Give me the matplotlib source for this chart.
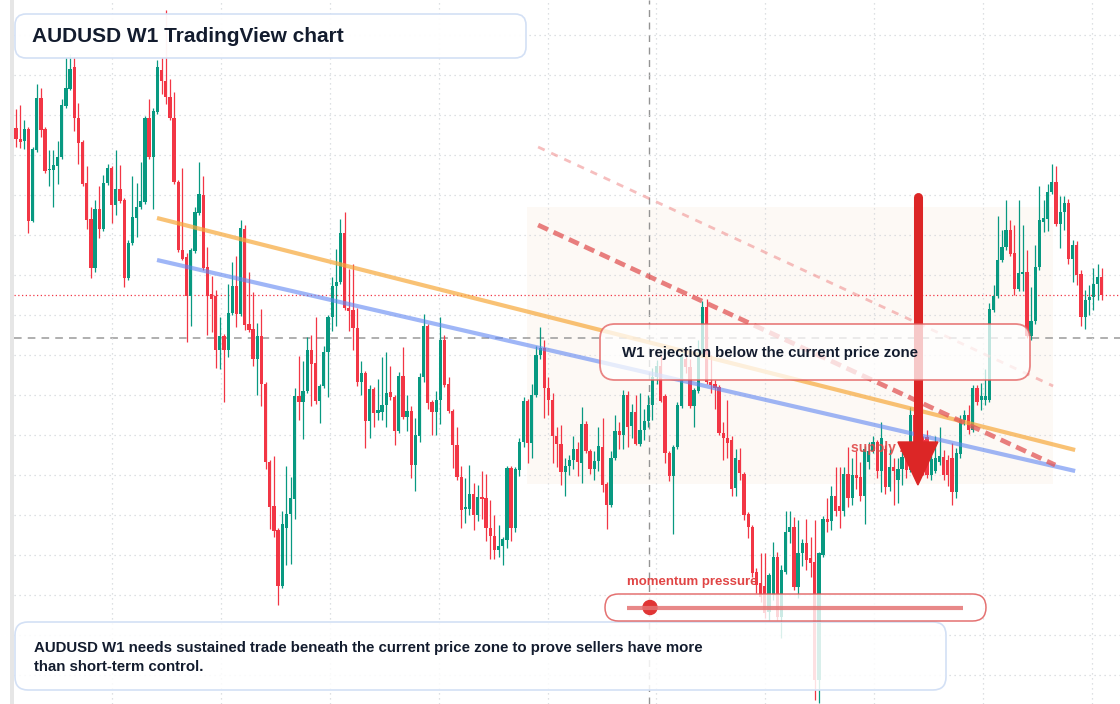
import numpy as np
import matplotlib.pyplot as plt
from matplotlib.patches import FancyBboxPatch, Rectangle, Polygon, Circle

plt.rcParams['font.family'] = ['Liberation Sans', 'DejaVu Sans']

# AUDUSD weekly candles, prices in pips (divide by 10000)
opens = [
    7267, 7256, 7254, 7266, 7174, 7245, 7297, 7266, 7225, 7225,
    7229, 7238, 7289, 7306, 7328, 7277, 7253, 7212, 7176, 7127,
    7186, 7166, 7212, 7227, 7190, 7206, 7195, 7117, 7152, 7177,
    7188, 7193, 7277, 7238, 7283, 7325, 7314, 7298, 7277, 7213,
    7145, 7138, 7099, 7144, 7182, 7200, 7128, 7101, 7099, 7045,
    7059, 7045, 7082, 7109, 7081, 7166, 7071, 7066, 7036, 7059,
    7011, 6933, 6889, 6865, 6809, 6867, 6881, 6896, 6999, 6993,
    7004, 7045, 7032, 6994, 7009, 7043, 7078, 7109, 7113, 7162,
    7087, 7085, 7067, 7013, 7022, 6974, 7006, 6982, 6983, 6990,
    7003, 6998, 6964, 7019, 6978, 6984, 6930, 6959, 7018, 7069,
    6993, 6983, 6995, 7055, 7011, 6984, 6950, 6918, 6886, 6886,
    6901, 6880, 6898, 6897, 6867, 6859, 6845, 6849, 6855, 6927,
    6867, 6925, 6953, 6994, 6952, 7000, 7040, 7047, 7007, 6995,
    6959, 6951, 6923, 6929, 6935, 6946, 6932, 6971, 6944, 6926,
    6934, 6948, 6911, 6890, 6937, 6964, 6960, 7000, 6969, 6983,
    6951, 6965, 6974, 6990, 7018, 7029, 6999, 6942, 6919, 6948,
    6989, 7036, 7028, 6989, 7004, 7040, 7088, 7013, 7011, 7008,
    6962, 6957, 6955, 6907, 6935, 6921, 6881, 6868, 6823, 6812,
    6809, 6783, 6800, 6838, 6778, 6823, 6863, 6868, 6808, 6842,
    6852, 6837, 6833, 6715, 6840, 6876, 6874, 6899, 6889, 6884,
    6921, 6897, 6920, 6918, 6899, 6933, 6944, 6953, 6924, 6946,
    6908, 6928, 6915, 6926, 6938, 6925, 6980, 6940, 6955, 6958,
    6920, 6924, 6933, 6938, 6935, 6937, 6903, 6941, 6975, 6980,
    6965, 7007, 6995, 6995, 6995, 7085, 7099, 7135, 7148, 7165,
    7142, 7106, 7121, 7123, 7059, 7074, 7128, 7173, 7176, 7203,
    7213, 7171, 7183, 7192, 7136, 7150, 7121, 7078, 7095, 7098,
    7111, 7118,
]
highs = [
    7286, 7290, 7275, 7268, 7248, 7311, 7307, 7268, 7245, 7245,
    7254, 7296, 7338, 7341, 7338, 7292, 7255, 7229, 7188, 7195,
    7209, 7220, 7231, 7229, 7245, 7230, 7197, 7155, 7219, 7212,
    7233, 7279, 7296, 7287, 7335, 7338, 7385, 7316, 7303, 7215,
    7227, 7142, 7147, 7188, 7233, 7219, 7148, 7119, 7105, 7078,
    7061, 7111, 7133, 7139, 7175, 7170, 7123, 7103, 7072, 7086,
    7013, 6935, 6939, 6867, 6884, 6929, 6918, 7007, 7039, 7034,
    7058, 7060, 7078, 7011, 7049, 7080, 7118, 7146, 7176, 7183,
    7126, 7131, 7087, 7034, 7024, 7010, 7008, 7016, 7038, 7043,
    7029, 7000, 7023, 7048, 7000, 6989, 6977, 7022, 7081, 7071,
    6995, 7004, 7078, 7060, 7018, 6986, 6968, 6929, 6917, 6930,
    6912, 6910, 6924, 6921, 6895, 6880, 6870, 6858, 6929, 6929,
    6928, 6957, 6998, 6996, 7011, 7049, 7068, 7055, 7018, 7002,
    6968, 6970, 6937, 6940, 6959, 6953, 6988, 6974, 6946, 6944,
    6968, 6977, 6913, 6944, 6980, 6973, 7005, 7004, 6991, 7000,
    7002, 6986, 7000, 7027, 7035, 7040, 7001, 6944, 6950, 6993,
    7047, 7045, 7036, 7007, 7055, 7094, 7096, 7040, 7015, 7010,
    6973, 6995, 6959, 6946, 6947, 6923, 6883, 6870, 6827, 6842,
    6842, 6822, 6853, 6843, 6830, 6884, 6884, 6878, 6875, 6856,
    6876, 6858, 6875, 6843, 6879, 6897, 6909, 6928, 6928, 6928,
    6948, 6937, 6944, 6933, 6949, 6953, 6959, 6955, 6973, 6950,
    6946, 6937, 6937, 6945, 6945, 6988, 6985, 6965, 6959, 6965,
    6940, 6959, 6968, 6945, 6940, 6952, 6947, 6980, 6985, 6990,
    7010, 7010, 7012, 7026, 7092, 7110, 7179, 7165, 7195, 7175,
    7170, 7195, 7170, 7145, 7108, 7150, 7209, 7195, 7211, 7231,
    7229, 7199, 7199, 7196, 7155, 7154, 7125, 7105, 7110, 7127,
    7131, 7127,
]
lows = [
    7248, 7247, 7246, 7162, 7173, 7243, 7258, 7222, 7209, 7188,
    7211, 7236, 7287, 7305, 7264, 7231, 7209, 7166, 7117, 7123,
    7157, 7164, 7210, 7172, 7180, 7192, 7108, 7115, 7150, 7158,
    7186, 7191, 7236, 7186, 7281, 7301, 7291, 7275, 7211, 7143,
    7135, 7053, 7069, 7142, 7180, 7125, 7060, 7063, 7027, 7026,
    6993, 7038, 7080, 7068, 7079, 7065, 7063, 7029, 7000, 6989,
    6926, 6866, 6858, 6790, 6807, 6830, 6831, 6876, 6975, 6956,
    7002, 6989, 6991, 6972, 7007, 6998, 7064, 7069, 7111, 7085,
    7064, 7045, 7009, 7000, 6947, 6957, 6968, 6975, 6975, 6968,
    6995, 6950, 6962, 6976, 6964, 6917, 6904, 6953, 7013, 6986,
    6960, 6960, 6971, 7008, 6982, 6927, 6915, 6867, 6872, 6880,
    6865, 6874, 6876, 6854, 6836, 6836, 6838, 6830, 6847, 6854,
    6863, 6919, 6948, 6932, 6937, 6998, 7036, 6977, 6980, 6932,
    6928, 6910, 6899, 6920, 6926, 6919, 6912, 6942, 6921, 6915,
    6924, 6903, 6866, 6888, 6935, 6946, 6946, 6948, 6957, 6950,
    6949, 6955, 6968, 6975, 7011, 6993, 6932, 6914, 6861, 6946,
    6987, 7022, 6987, 6968, 7002, 7038, 7011, 7002, 6986, 6960,
    6935, 6937, 6899, 6899, 6915, 6875, 6857, 6818, 6802, 6793,
    6777, 6775, 6795, 6775, 6757, 6821, 6852, 6805, 6797, 6829,
    6825, 6818, 6695, 6692, 6838, 6863, 6865, 6879, 6867, 6879,
    6888, 6890, 6906, 6894, 6871, 6926, 6942, 6917, 6903, 6901,
    6904, 6890, 6892, 6910, 6917, 6923, 6933, 6925, 6920, 6917,
    6915, 6922, 6930, 6915, 6909, 6890, 6897, 6937, 6970, 6961,
    6963, 6990, 6985, 6990, 6993, 7083, 7097, 7133, 7145, 7139,
    7100, 7104, 7104, 7057, 7055, 7071, 7125, 7163, 7164, 7201,
    7169, 7147, 7165, 7131, 7113, 7110, 7069, 7066, 7080, 7085,
    7095, 7095,
]
closes = [
    7256, 7253, 7266, 7174, 7246, 7297, 7265, 7224, 7226, 7230,
    7238, 7290, 7307, 7326, 7277, 7252, 7211, 7175, 7127, 7186,
    7166, 7212, 7227, 7190, 7206, 7194, 7117, 7152, 7178, 7188,
    7194, 7277, 7238, 7284, 7328, 7314, 7298, 7277, 7213, 7145,
    7136, 7099, 7145, 7183, 7201, 7127, 7099, 7096, 7045, 7059,
    7045, 7082, 7109, 7081, 7167, 7070, 7065, 7036, 7059, 7011,
    6933, 6888, 6864, 6809, 6871, 6881, 6897, 6999, 6993, 7004,
    7045, 7031, 6994, 7009, 7043, 7078, 7109, 7113, 7162, 7087,
    7084, 7067, 7013, 7022, 6974, 7006, 6982, 6985, 6990, 7002,
    6998, 6964, 7019, 6978, 6984, 6930, 6960, 7018, 7069, 6992,
    6983, 6995, 7055, 7010, 6984, 6950, 6918, 6885, 6888, 6901,
    6880, 6898, 6896, 6867, 6859, 6845, 6849, 6856, 6927, 6867,
    6926, 6953, 6994, 6952, 7000, 7040, 7047, 7007, 6995, 6959,
    6951, 6923, 6929, 6935, 6946, 6933, 6971, 6944, 6926, 6934,
    6949, 6910, 6890, 6937, 6964, 6960, 7000, 6968, 6983, 6951,
    6965, 6974, 6990, 7018, 7029, 6994, 6942, 6919, 6948, 6990,
    7040, 7028, 6989, 7005, 7040, 7088, 7013, 7010, 7007, 6962,
    6957, 6952, 6906, 6937, 6922, 6880, 6868, 6822, 6810, 6798,
    6782, 6820, 6838, 6778, 6825, 6863, 6868, 6808, 6842, 6852,
    6835, 6832, 6715, 6842, 6876, 6873, 6899, 6884, 6884, 6921,
    6897, 6920, 6917, 6899, 6946, 6944, 6953, 6924, 6957, 6908,
    6928, 6924, 6926, 6938, 6925, 6980, 6940, 6955, 6929, 6920,
    6936, 6937, 6939, 6920, 6920, 6903, 6942, 6975, 6980, 6965,
    7007, 6993, 6999, 6999, 7086, 7099, 7135, 7148, 7165, 7141,
    7106, 7122, 7123, 7059, 7074, 7128, 7175, 7177, 7203, 7213,
    7171, 7183, 7192, 7136, 7150, 7120, 7078, 7095, 7098, 7111,
    7118, 7100,
]

# drawn levels (bar index, price)
orange_line = [(33.9, 0.7177), (254.6, 0.6945)]
blue_line = [(33.9, 0.7135), (254.6, 0.6924)]
red_dash = [(125.5, 0.7170), (249.8, 0.6930)]
red_dash_light = [(125.5, 0.7248), (249.3, 0.7009)]
zone = (122.8, 249.3, 0.6911, 0.7188)
level_red = 0.7100
level_cross = 0.7057
cross_bar = 152.2
arrow_bar = 216.8
arrow_top, arrow_head, arrow_tip = 0.7198, 0.6953, 0.6910

GREEN = '#089981'
RED = '#f23645'
TEXT = '#131c2e'

W, H = 1120, 704
fig = plt.figure(figsize=(W / 100, H / 100), dpi=100)
fig.patch.set_facecolor('white')
ax = fig.add_axes([14 / W, 0, 1 - 14 / W, 1])

o = np.array(opens) / 10000
h = np.array(highs) / 10000
l = np.array(lows) / 10000
c = np.array(closes) / 10000
idx = np.arange(len(o))
cols = np.where(c >= o, GREEN, RED)

# zone + grid
ax.add_patch(Rectangle((zone[0], zone[2]), zone[1] - zone[0], zone[3] - zone[2],
                       facecolor='#fdf5ec', alpha=0.5, edgecolor='none', zorder=0))
ax.set_xlim(-0.48, 265.38)
ax.set_ylim(0.6691, 0.7395)
ax.set_xticks(np.arange(23.1, 265, 26.17))
ax.set_yticks(np.arange(0.6720, 0.7390, 0.0040))
ax.grid(True, color='#d3d6da', linestyle=(0, (1, 3)), linewidth=0.9, zorder=0)
ax.tick_params(left=False, bottom=False, labelleft=False, labelbottom=False)
for s in ax.spines.values():
    s.set_visible(False)

ax.axhline(level_red, color=RED, linestyle=(0, (1, 2)), linewidth=0.9, zorder=1)
ax.axhline(level_cross, color='#9a9a9a', linestyle=(0, (5, 4)), linewidth=1.1, zorder=1)
ax.axvline(cross_bar, color='#949494', linestyle=(0, (5, 4)), linewidth=1.0, zorder=1)

# candles
ax.vlines(idx, l, h, colors=cols, linewidth=0.9, zorder=3)
ax.bar(idx, np.maximum(np.abs(c - o), 0.00012), bottom=np.minimum(o, c), width=0.78,
       color=cols, linewidth=0, zorder=4)

# trend lines
for pts, col, lw, ls, a in [
    (orange_line, '#f7a93b', 3, '-', 0.7),
    (blue_line, '#5f86f2', 3, '-', 0.6),
    (red_dash, '#e25555', 3.4, (0, (2.3, 1.3)), 0.75),
    (red_dash_light, '#f08a8a', 2.0, (0, (2.6, 2.6)), 0.55),
]:
    xs, ys = zip(*pts)
    ax.plot(xs, ys, color=col, linewidth=lw, linestyle=ls, alpha=a, zorder=5,
            solid_capstyle='butt')

ax.text(200.7, 0.6947, 'supply zone', color='#e04848', fontsize=10, fontweight='bold',
        va='center', ha='left', alpha=0.9, zorder=6)

# big red arrow
ax.plot([arrow_bar, arrow_bar], [arrow_top, arrow_head], color='#dc2626', linewidth=6.5,
        solid_capstyle='round', zorder=7)
ax.add_patch(Polygon([(arrow_bar - 4.8, arrow_head), (arrow_bar + 4.8, arrow_head),
                      (arrow_bar, arrow_tip)], closed=True, color='#dc2626', zorder=7))

# overlay in pixel coordinates for the boxes
ov = fig.add_axes([0, 0, 1, 1])
ov.set_xlim(0, W)
ov.set_ylim(H, 0)
ov.axis('off')
ov.patch.set_alpha(0)

ov.add_patch(Rectangle((10, 0), 4, H, facecolor='#e6e6e6', edgecolor='none'))


def box(x0, y0, x1, y1, r, edge, alpha, lw=1.2):
    ov.add_patch(FancyBboxPatch((x0, y0), x1 - x0, y1 - y0,
                                boxstyle=f'round,pad=0,rounding_size={r}',
                                facecolor=(1, 1, 1, alpha), edgecolor=edge, linewidth=lw))


box(15, 14, 526, 58, 11, '#d3e0f5', 0.95)
ov.text(32, 36, 'AUDUSD W1 TradingView chart', fontsize=15, fontweight='bold',
        color=TEXT, va='center', ha='left')

box(600, 324, 1030, 380, 15, (0.89, 0.36, 0.36, 0.75), 0.75, 1.3)
ov.text(622, 353, 'W1 rejection below the current price zone', fontsize=10.8,
        fontweight='bold', color=TEXT, va='center', ha='left')

box(15, 622, 946, 690, 13, '#d3e0f5', 0.85)
ov.text(34, 657.5, 'AUDUSD W1 needs sustained trade beneath the current price zone to prove sellers have more\n'
        'than short-term control.', fontsize=10.8, fontweight='bold', color=TEXT,
        va='center', ha='left', linespacing=1.45)

box(605, 594, 986, 621, 13.5, (0.88, 0.35, 0.35, 0.85), 0.8, 1.1)
ov.plot([627, 963], [607.5, 607.5], color='#e57373', linewidth=3, alpha=0.85,
        solid_capstyle='butt')
ov.add_patch(Circle((650, 607.5), 7, color='#e03535'))
ov.text(627, 582, 'momentum pressure', fontsize=9.5, fontweight='bold', color='#e04545',
        va='center', ha='left')

fig.savefig('out.png', dpi=100)
